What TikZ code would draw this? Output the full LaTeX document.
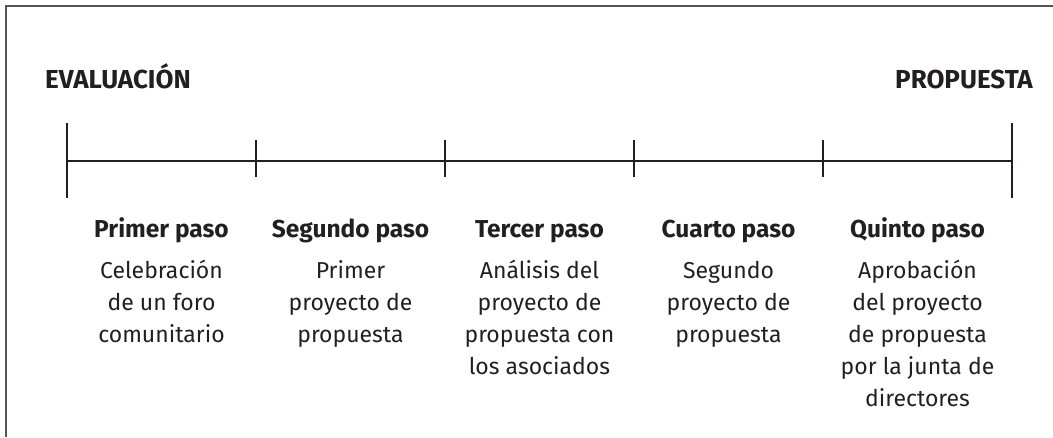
\documentclass[tikz,border=0pt]{standalone}
\usepackage{fontspec}
\setmainfont{Fira Sans}
\definecolor{ink}{HTML}{231F20}
\definecolor{frame}{HTML}{555555}
\tikzset{
  axisline/.style={draw=ink, line width=2.8pt},
  frameline/.style={draw=frame, line width=1.6pt},
  endlabel/.style={font=\fontsize{26}{30}\selectfont\bfseries, text=ink, inner sep=0pt},
  stephead/.style={font=\fontsize{24.5}{28}\selectfont\bfseries, text=ink, inner sep=0pt, anchor=base},
  stepbody/.style={font=\fontsize{23}{32}\selectfont, text=ink, inner sep=0pt, align=center, anchor=north}
}
\begin{document}
\begin{tikzpicture}[x=1pt,y=-1pt]
\useasboundingbox (0,0) rectangle (1053,437);
% frame
\coordinate (fa) at (6,437);
\coordinate (fb) at (6,6);
\coordinate (fc) at (1053,6);
\draw[frameline] (fa) -- (fb) -- (fc);
% end labels
\node[endlabel, anchor=base west] (eval) at (45,88) {EVALUACIÓN};
\node[endlabel, anchor=base east] (prop) at (1033,88) {PROPUESTA};
% timeline
\foreach \i/\x in {0/67,1/256,2/445,3/634,4/823,5/1012}{
  \coordinate (t\i) at (\x,161);
}
\draw[axisline] (t0) -- (t5);
\foreach \i in {0,5}{
  \draw[axisline] ([yshift=-37pt]t\i) -- ([yshift=38pt]t\i);
}
\foreach \i in {1,2,3,4}{
  \draw[axisline] ([yshift=-16pt]t\i) -- ([yshift=21pt]t\i);
}
% steps
\node[stephead] (h1) at (161.5,237) {Primer paso};
\node[stephead] (h2) at (350.5,237) {Segundo paso};
\node[stephead] (h3) at (539.5,237) {Tercer paso};
\node[stephead] (h4) at (728.5,237) {Cuarto paso};
\node[stephead] (h5) at (917.5,237) {Quinto paso};
\node[stepbody] (b1) at (161.5,255.6) {\strut Celebración\\de un foro\\comunitario};
\node[stepbody] (b2) at (350.5,255.6) {\strut Primer\\proyecto de\\propuesta};
\node[stepbody] (b3) at (539.5,255.6) {\strut Análisis del\\proyecto de\\propuesta con\\los asociados};
\node[stepbody] (b4) at (728.5,255.6) {\strut Segundo\\proyecto de\\propuesta};
\node[stepbody] (b5) at (917.5,255.6) {\strut Aprobación\\del proyecto\\de propuesta\\por la junta de\\directores};
\end{tikzpicture}
\end{document}
